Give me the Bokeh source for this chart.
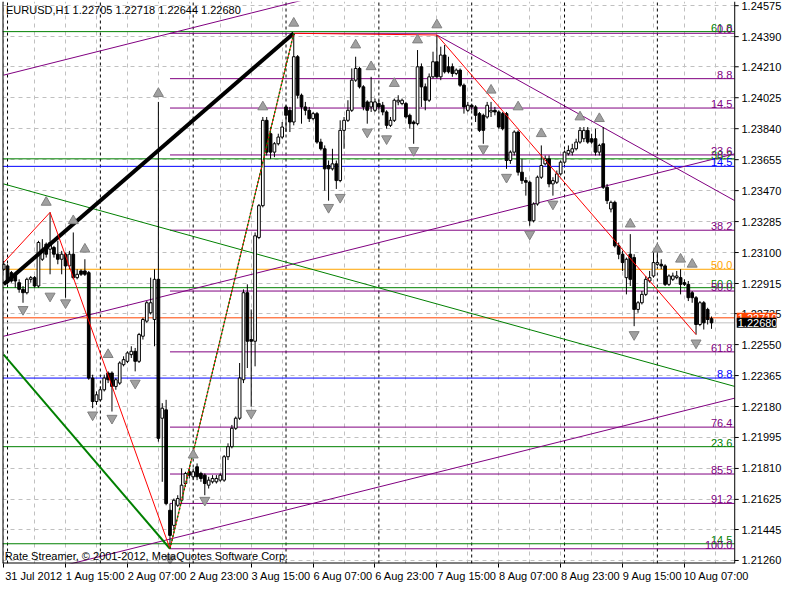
import numpy as np
from bokeh.plotting import figure
from bokeh.models import FixedTicker, PrintfTickFormatter, Range1d, Label, ColumnDataSource
from bokeh.core.properties import value
from bokeh.embed import file_html
from bokeh.resources import INLINE

# ---------------- data (EURUSD H1, 31 Jul 23:00 -> 10 Aug 14:00) ----------------
opens = [
 1.2300,1.2302,1.2298,1.2297,1.2292,1.2288,1.2286,1.2294,1.2295,1.2290,
 1.2306,1.2315,1.2312,1.2313,1.2309,1.2306,1.2309,1.2302,1.2309,1.2295,
 1.2299,1.2299,1.2298,1.2235,1.2221,1.2222,1.2228,1.2238,1.2238,1.2230,
 1.2232,1.2243,1.2245,1.2249,1.2251,1.2245,1.2260,1.2269,1.2274,1.2270,
 1.2294,1.2211,1.2216,1.2156,1.2147,1.2159,1.2162,1.2172,1.2179,1.2176,
 1.2182,1.2178,1.2177,1.2171,1.2173,1.2173,1.2174,1.2174,1.2188,1.2194,
 1.2205,1.2211,1.2234,1.2286,1.2258,1.2257,1.2319,1.2338,1.2389,1.2381,
 1.2370,1.2375,1.2379,1.2397,1.2395,1.2388,1.2427,1.2404,1.2397,1.2395,
 1.2390,1.2393,1.2376,1.2372,1.2362,1.2360,1.2363,1.2353,1.2383,1.2389,
 1.2395,1.2413,1.2420,1.2409,1.2400,1.2397,1.2395,1.2399,1.2398,1.2394,
 1.2386,1.2389,1.2400,1.2399,1.2399,1.2392,1.2388,1.2387,1.2421,1.2409,
 1.2401,1.2415,1.2424,1.2415,1.2428,1.2421,1.2421,1.2417,1.2419,1.2410,
 1.2395,1.2398,1.2397,1.2393,1.2392,1.2391,1.2394,1.2395,1.2394,1.2393,
 1.2393,1.2365,1.2370,1.2382,1.2358,1.2353,1.2352,1.2329,1.2339,1.2355,
 1.2363,1.2366,1.2351,1.2352,1.2357,1.2364,1.2369,1.2370,1.2372,1.2376,
 1.2378,1.2383,1.2378,1.2378,1.2370,1.2375,1.2349,1.2336,1.2340,1.2314,
 1.2309,1.2295,1.2309,1.2307,1.2276,1.2280,1.2285,1.2293,1.2296,1.2303,
 1.2303,1.2302,1.2291,1.2294,1.2295,1.2295,1.2292,1.2291,1.2286,1.2283,
 1.2267,1.2280,1.2276,1.22705]
highs = [
 1.2305,1.2303,1.2299,1.2298,1.2294,1.2290,1.2295,1.2296,1.2296,1.2317,
 1.2318,1.2316,1.2334,1.2314,1.2317,1.2311,1.2310,1.2311,1.2322,1.2300,
 1.2300,1.2306,1.2299,1.2237,1.2227,1.2230,1.2237,1.2239,1.2239,1.2235,
 1.2245,1.2248,1.2251,1.2254,1.2253,1.2262,1.2271,1.2281,1.2295,1.2300,
 1.2400,1.2220,1.2222,1.2160,1.2163,1.2165,1.2181,1.2179,1.2181,1.2181,
 1.2184,1.2179,1.2178,1.2176,1.2177,1.2177,1.2178,1.2189,1.2196,1.2207,
 1.2212,1.2244,1.2288,1.2291,1.2276,1.2322,1.2339,1.2391,1.2391,1.2385,
 1.2376,1.2381,1.2388,1.2398,1.2397,1.2441,1.2428,1.2405,1.2400,1.2397,
 1.2394,1.2394,1.2378,1.2374,1.2365,1.2372,1.2365,1.2389,1.2391,1.2401,
 1.2420,1.2427,1.2421,1.2410,1.2401,1.2415,1.2402,1.2401,1.2400,1.2395,
 1.2391,1.2402,1.2404,1.2402,1.2400,1.2393,1.2389,1.2431,1.2423,1.2411,
 1.2417,1.2430,1.2440,1.2433,1.2434,1.2427,1.2423,1.2420,1.2420,1.2411,
 1.2400,1.2399,1.2398,1.2394,1.2393,1.2400,1.2400,1.2397,1.2395,1.2394,
 1.2394,1.2371,1.2383,1.2383,1.2366,1.2355,1.2353,1.2340,1.2356,1.2374,
 1.2368,1.2368,1.2355,1.2359,1.2365,1.2371,1.2374,1.2375,1.2378,1.2385,
 1.2385,1.2385,1.2381,1.2384,1.2375,1.2385,1.2351,1.2341,1.2341,1.2316,
 1.2311,1.2307,1.2321,1.2309,1.2281,1.2287,1.2296,1.2299,1.2311,1.2311,
 1.2306,1.2303,1.2297,1.2298,1.2299,1.2300,1.2294,1.2293,1.2287,1.2284,
 1.2281,1.2281,1.2277,1.22718]
lows = [
 1.2299,1.2291,1.2292,1.2289,1.2286,1.2280,1.2285,1.2292,1.2289,1.2289,
 1.2305,1.2307,1.2297,1.2307,1.2303,1.2297,1.2283,1.2300,1.2294,1.2294,
 1.2296,1.2296,1.2234,1.2217,1.2219,1.2221,1.2227,1.2232,1.2215,1.2228,
 1.2231,1.2242,1.2244,1.2247,1.2239,1.2244,1.2258,1.2268,1.2273,1.2254,
 1.2197,1.2173,1.2159,1.2133,1.2144,1.2158,1.2160,1.2170,1.2175,1.2174,
 1.2174,1.2173,1.2165,1.2169,1.2172,1.2172,1.2173,1.2173,1.2186,1.2193,
 1.2204,1.2210,1.2232,1.2241,1.2218,1.2242,1.2318,1.2337,1.2368,1.2366,
 1.2367,1.2374,1.2378,1.2382,1.2382,1.2386,1.2402,1.2387,1.2392,1.2388,
 1.2389,1.2375,1.2371,1.2347,1.2341,1.2359,1.2348,1.2352,1.2372,1.2388,
 1.2394,1.2412,1.2408,1.2395,1.2387,1.2394,1.2394,1.2395,1.2392,1.2384,
 1.2385,1.2388,1.2398,1.2398,1.2390,1.2384,1.2375,1.2386,1.2397,1.2395,
 1.2400,1.2414,1.2414,1.2413,1.2417,1.2417,1.2415,1.2416,1.2409,1.2393,
 1.2394,1.2395,1.2388,1.2382,1.2375,1.2390,1.2391,1.2392,1.2384,1.2383,
 1.2360,1.2363,1.2368,1.2356,1.2351,1.2344,1.2326,1.2328,1.2338,1.2354,
 1.2362,1.2349,1.2344,1.2351,1.2356,1.2363,1.2368,1.2368,1.2371,1.2375,
 1.2376,1.2375,1.2375,1.2368,1.2368,1.2348,1.2339,1.2334,1.2313,1.2306,
 1.2299,1.2285,1.2290,1.2266,1.2274,1.2279,1.2284,1.2292,1.2295,1.2302,
 1.2300,1.2290,1.2290,1.2293,1.2294,1.2285,1.2290,1.2281,1.2280,1.2261,
 1.2266,1.2264,1.2267,1.22644]
closes = [
 1.2303,1.2292,1.2293,1.2293,1.2288,1.2286,1.2294,1.2295,1.2290,1.2316,
 1.2312,1.2309,1.2316,1.2309,1.2306,1.2309,1.2302,1.2309,1.2295,1.2297,
 1.2297,1.2297,1.2235,1.2221,1.2225,1.2228,1.2235,1.2234,1.2230,1.2234,
 1.2244,1.2246,1.2250,1.2251,1.2245,1.2261,1.2270,1.2280,1.2280,1.2294,
 1.2199,1.2217,1.2160,1.2141,1.2162,1.2163,1.2171,1.2178,1.2177,1.2179,
 1.2176,1.2175,1.2172,1.2174,1.2175,1.2175,1.2177,1.2188,1.2194,1.2205,
 1.2211,1.2235,1.2286,1.2257,1.2257,1.2320,1.2338,1.2389,1.2370,1.2370,
 1.2375,1.2379,1.2385,1.2392,1.2388,1.2427,1.2404,1.2397,1.2395,1.2390,
 1.2393,1.2376,1.2372,1.2360,1.2360,1.2363,1.2353,1.2383,1.2389,1.2395,
 1.2413,1.2420,1.2409,1.2397,1.2395,1.2400,1.2400,1.2397,1.2394,1.2386,
 1.2389,1.2401,1.2401,1.2401,1.2391,1.2387,1.2387,1.2421,1.2409,1.2401,
 1.2415,1.2424,1.2415,1.2428,1.2418,1.2418,1.2417,1.2419,1.2410,1.2397,
 1.2398,1.2397,1.2392,1.2383,1.2383,1.2398,1.2395,1.2394,1.2385,1.2384,
 1.2365,1.2370,1.2382,1.2358,1.2353,1.2352,1.2329,1.2339,1.2355,1.2362,
 1.2366,1.2351,1.2353,1.2357,1.2364,1.2370,1.2371,1.2372,1.2376,1.2383,
 1.2383,1.2376,1.2376,1.2370,1.2374,1.2349,1.2341,1.2340,1.2314,1.2309,
 1.2304,1.2306,1.2294,1.2276,1.2280,1.2285,1.2294,1.2295,1.2304,1.2304,
 1.2302,1.2291,1.2296,1.2296,1.2296,1.2291,1.2291,1.2283,1.2283,1.2267,
 1.2280,1.2268,1.2270,1.22680]

time_tick_bars = [0, 16, 32, 48, 64, 80, 96, 112, 128, 144, 160, 176]
time_tick_labels = ["31 Jul 2012", "1 Aug 15:00", "2 Aug 07:00", "2 Aug 23:00", "3 Aug 15:00",
                    "6 Aug 07:00", "6 Aug 23:00", "7 Aug 15:00", "8 Aug 07:00", "8 Aug 23:00",
                    "9 Aug 15:00", "10 Aug 07:00"]
day_start_bars = [1, 25, 49, 73, 97, 121, 145, 169]
price_ticks = [1.24575, 1.24390, 1.24210, 1.24025, 1.23840, 1.23655, 1.23470, 1.23285, 1.23100,
               1.22915, 1.22735, 1.22550, 1.22365, 1.22180, 1.21995, 1.21810, 1.21625, 1.21445, 1.21260]

# Fibonacci retracement (purple) from the 3 Aug high to the 2 Aug low
fib_start_bar = 43
fib_high = 1.2441
fib_low = 1.2133
fib_levels = [0.0, 8.8, 14.5, 23.6, 38.2, 50.0, 61.8, 76.4, 85.5, 91.2, 100.0]

# other horizontal levels: price, label
green_levels = [1.2442, 1.2366, 1.2289, 1.2194, 1.2136]
green_labels = ["61.8", "38.2", "50.0", "23.6", "14.5"]
blue_levels = [1.23615, 1.2235]
blue_labels = ["14.5", "8.8"]
orange_level = 1.2300
orange_label = "50.0"
orangered_level = 1.2271
bid_level = 1.22680

# zigzag (bar, price)
zz_bars = [0, 12, 43, 75, 112, 179]
zz_prices = [1.2304, 1.2334, 1.2133, 1.2441, 1.2440, 1.2261]

# trend lines: (bar0, price0, bar1, price1)
thick_black = (0, 1.2291, 75, 1.2441)
purple_mid = (0, 1.2260, 189, 1.2369)
purple_top = (0, 1.2416, 100, 1.2474)
purple_bot = (0, 1.2114, 189, 1.2223)
purple_down = (112, 1.2440, 189, 1.2341)
green_down = (0, 1.2351, 189, 1.2230)
green_thick = (0, 1.2249, 43, 1.2133)

# fractals
frac_up_bars = [11, 18, 21, 27, 40, 49, 67, 75, 91, 95, 101, 107, 112, 126, 133, 139, 149, 154, 162, 169, 175, 178]
frac_up_prices = [1.2340, 1.2329, 1.2312, 1.2249, 1.2405, 1.2189, 1.2397, 1.2447, 1.2434, 1.2421, 1.2411,
                  1.2437, 1.2446, 1.2407, 1.2397, 1.2381, 1.2391, 1.2390, 1.2327, 1.2312, 1.2306, 1.2303]
frac_dn_bars = [5, 12, 16, 23, 28, 34, 43, 52, 64, 84, 87, 94, 99, 106, 124, 130, 136, 142, 163, 179]
frac_dn_prices = [1.2276, 1.2284, 1.2280, 1.2213, 1.2211, 1.2232, 1.2127, 1.2162, 1.2214, 1.2337, 1.2343,
                  1.2382, 1.2378, 1.2371, 1.2372, 1.2355, 1.2321, 1.2339, 1.2261, 1.2256]

title_text = "EURUSD,H1  1.22705 1.22718 1.22644 1.22680"
copyright_text = "Rate Streamer, \u00a9 2001-2012, MetaQuotes Software Corp."

# ---------------- figure ----------------
FONT = "Liberation Sans"
X0, X1 = -0.3, 189.0          # chart (bars) area
XE = 199.8                    # frame end: the price scale strip lies between X1 and XE
Y0, Y1 = 1.21242, 1.24600
TICK = 1.03                   # 4px price-scale tick, in bars

p = figure(width=784, height=584, output_backend="svg", toolbar_location=None,
           x_range=Range1d(X0, XE), y_range=Range1d(Y0, Y1), y_axis_location="right",
           min_border_left=2, min_border_top=1, min_border_right=0, min_border_bottom=0,
           background_fill_color="white", border_fill_color="white")
p.outline_line_color = None

# x axis: labels start at their tick (MT4 style); tick marks drawn as minor ticks
lab_shift = [7.75] * (len(time_tick_bars) - 1) + [8.25]
lab_pos = [b + s for b, s in zip(time_tick_bars, lab_shift)]
xa = p.xaxis[0]
xa.ticker = FixedTicker(ticks=lab_pos, minor_ticks=time_tick_bars)
xa.major_label_overrides = {pos: l for pos, l in zip(lab_pos, time_tick_labels)}
xa.major_tick_line_color = None
xa.major_tick_in = 0
xa.major_tick_out = 3
xa.minor_tick_line_color = "black"
xa.minor_tick_in = 0
xa.minor_tick_out = 4
xa.major_label_standoff = 2
xa.major_label_text_font = FONT
xa.major_label_text_font_size = "11px"
xa.major_label_text_color = "black"
xa.axis_line_color = None

# price scale: axis labels pulled back into the strip right of the chart
ya = p.yaxis[0]
ya.ticker = FixedTicker(ticks=price_ticks)
ya.formatter = PrintfTickFormatter(format="%.5f")
ya.major_label_text_font = FONT
ya.major_label_text_font_size = "11px"
ya.major_label_text_color = "black"
ya.major_label_standoff = -35
ya.major_tick_in = 0
ya.major_tick_out = 0
ya.major_tick_line_color = None
ya.minor_tick_line_color = None
ya.minor_tick_out = 0
ya.axis_line_color = None

p.xgrid.ticker = FixedTicker(ticks=list(range(0, 190, 8)))
p.ygrid.ticker = FixedTicker(ticks=price_ticks)
for g in (p.xgrid[0], p.ygrid[0]):
    g.grid_line_color = "#c0c0c0"
    g.grid_line_dash = "4 4"
    g.grid_line_width = 1

# day separators
p.segment(x0=day_start_bars, y0=[Y0] * len(day_start_bars), x1=day_start_bars, y1=[Y1] * len(day_start_bars),
          line_color="black", line_dash="3 3", line_width=1)

# full width horizontal levels
def hline(price, color, width=1):
    p.segment(x0=[X0], y0=[price], x1=[X1], y1=[price], line_color=color, line_width=width)

hline(bid_level, "#c0c0c0")
for lv in blue_levels:
    hline(lv, "#0000ff")
hline(orange_level, "#ffa500")
hline(orangered_level, "#ff4500")
for lv in green_levels:
    hline(lv, "#008000")

# fib lines
fib_prices = [fib_high - lv / 100.0 * (fib_high - fib_low) for lv in fib_levels]
p.segment(x0=[fib_start_bar] * len(fib_prices), y0=fib_prices, x1=[X1] * len(fib_prices), y1=fib_prices,
          line_color="#800080", line_width=1)

# trend lines
def tline(t, color, width=1, dash="solid"):
    p.line(x=[t[0], t[2]], y=[t[1], t[3]], line_color=color, line_width=width, line_dash=dash)

tline(purple_mid, "#800080")
tline(purple_top, "#800080")
tline(purple_bot, "#800080")
tline(purple_down, "#800080")
tline(green_down, "#008000")
tline(green_thick, "#008000", 2)

# candles
idx = list(range(len(opens)))
p.segment(x0=idx, y0=lows, x1=idx, y1=highs, line_color="black", line_width=1)
src = ColumnDataSource(dict(
    x=idx,
    top=[max(o, c) for o, c in zip(opens, closes)],
    bottom=[min(o, c) for o, c in zip(opens, closes)],
    fill=["white" if c >= o else "black" for o, c in zip(opens, closes)]))
p.vbar(x="x", top="top", bottom="bottom", width=0.7, fill_color="fill", line_color="black",
       line_width=1, source=src)

# thick black trend line
tline(thick_black, "black", 4)

# zigzag
p.line(x=zz_bars, y=zz_prices, line_color="#ff0000", line_width=1)
p.line(x=zz_bars[2:4], y=zz_prices[2:4], line_color="#008000", line_width=1.5, line_dash="2 2")

# fractals
p.scatter(x=frac_up_bars, y=frac_up_prices, marker="triangle", size=10,
          fill_color="#a0a0a0", line_color="#808080", line_width=1)
p.scatter(x=frac_dn_bars, y=frac_dn_prices, marker="inverted_triangle", size=10,
          fill_color="#a0a0a0", line_color="#808080", line_width=1)

# level labels (right side, above lines)
lab_x = X1 - 0.6
def level_labels(prices, labels, color):
    p.text(x=[lab_x] * len(prices), y=prices, text=labels, text_align="right", text_baseline="bottom",
           text_color=color, text_font=value(FONT), text_font_size="11px")

level_labels(green_levels, green_labels, "#008000")
level_labels(blue_levels, blue_labels, "#0000ff")
level_labels([orange_level], [orange_label], "#ffa500")
level_labels(fib_prices, [("%.1f" % lv) for lv in fib_levels], "#800080")

# price-scale strip: blank background, axis line, tick marks; chart borders
p.quad(left=[X1], right=[XE], bottom=[Y0], top=[Y1], fill_color="white", line_color=None)
p.segment(x0=[X1], y0=[Y0], x1=[X1], y1=[Y1], line_color="black", line_width=1)
p.segment(x0=[X1] * len(price_ticks), y0=price_ticks, x1=[X1 + TICK] * len(price_ticks), y1=price_ticks,
          line_color="black", line_width=1)
p.segment(x0=[X0, X0], y0=[Y0, Y0], x1=[X1, X0], y1=[Y0, Y1], line_color="black", line_width=2)

# title & copyright
p.add_layout(Label(x=0.6, y=Y1 - 0.00012, text=title_text, text_color="black", text_font=FONT,
                   text_font_size="11px", text_baseline="top", text_align="left"))
p.text(x=[0.3], y=[Y0 + 0.00008], text=[copyright_text], text_align="left", text_baseline="bottom",
       text_color="black", text_font=value(FONT), text_font_size="11px")

# price boxes on the price scale
for price, txt, bg in [(orangered_level, "1.22710", "#ff4500"), (bid_level, "1.22680", "black")]:
    p.add_layout(Label(x=X1, y=price, x_offset=2, text=txt, text_color="white", text_font=FONT,
                       text_font_size="11px", text_baseline="middle", text_align="left",
                       background_fill_color=bg, padding=1))

open("out.html", "w").write(file_html(p, INLINE))
